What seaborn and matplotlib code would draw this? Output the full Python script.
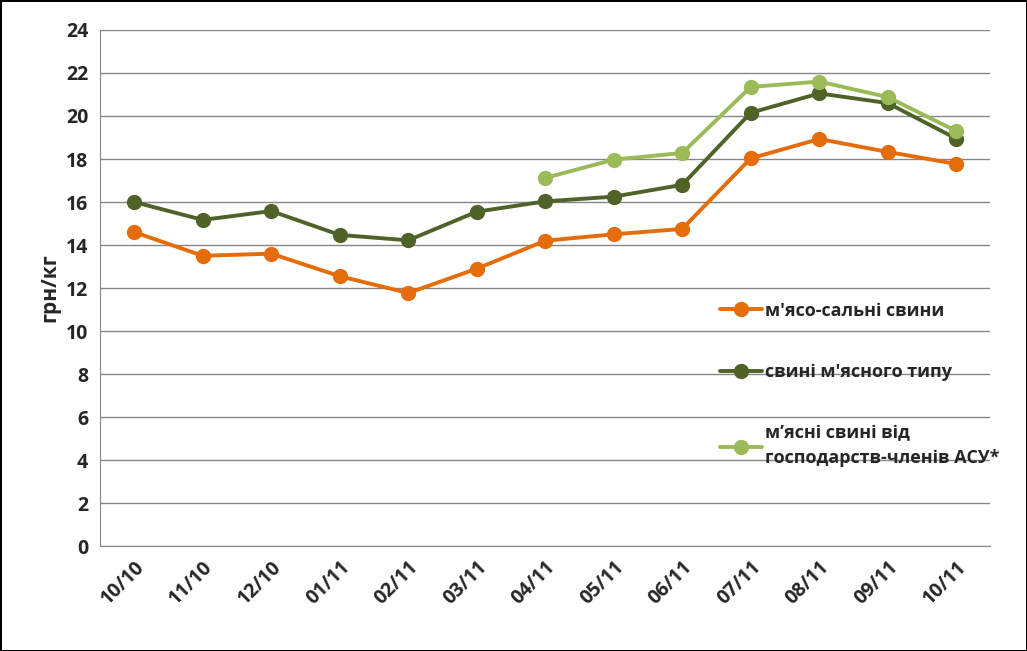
import seaborn as sns
import pandas as pd
import matplotlib.pyplot as plt
import numpy as np

months = ['10/10', '11/10', '12/10', '01/11', '02/11', '03/11', '04/11',
          '05/11', '06/11', '07/11', '08/11', '09/11', '10/11']
meat_fat = [14.6, 13.5, 13.6, 12.55, 11.77, 12.9, 14.2, 14.5, 14.75, 18.03, 18.93, 18.33, 17.77]
meat_type = [16.0, 15.17, 15.58, 14.47, 14.22, 15.55, 16.03, 16.25, 16.8, 20.15, 21.05, 20.6, 18.95]
asu_meat = [np.nan, np.nan, np.nan, np.nan, np.nan, np.nan, 17.12, 17.97, 18.28, 21.35, 21.6, 20.88, 19.3]

names = ["м'ясо-сальні свини", "свині м'ясного типу",
         "м’ясні свині від\nгосподарств-членів АСУ*"]
colors = ['#E46C0A', '#4F6228', '#9BBB59']

df = pd.DataFrame({'month': months * 3,
                   'value': meat_fat + meat_type + asu_meat,
                   'series': [names[0]] * 13 + [names[1]] * 13 + [names[2]] * 13})
df['x'] = list(range(13)) * 3

sns.set_style('white')
plt.rcParams['font.family'] = ['Open Sans', 'DejaVu Sans']
plt.rcParams['font.weight'] = 'bold'

fig = plt.figure(figsize=(10.27, 6.51), dpi=100, linewidth=2, edgecolor='black')
ax = fig.add_axes([0.0974, 0.161, 0.867, 0.793])

sns.lineplot(data=df, x='x', y='value', hue='series', palette=colors,
             marker='o', markersize=11, markeredgewidth=0, linewidth=2.8,
             sort=False, ax=ax)

ax.set_xlim(-0.5, 12.5)
ax.set_ylim(0, 24)
ax.set_yticks(range(0, 25, 2))
ax.set_xticks(range(13))
ax.set_xticklabels(months, rotation=45, ha='right', rotation_mode='anchor')
ax.tick_params(axis='both', labelsize=14, length=5, color='#868686', width=1)
ax.tick_params(axis='x', length=0, pad=8)
for lab in ax.get_xticklabels() + ax.get_yticklabels():
    lab.set_fontweight('bold')
ax.grid(axis='y', color='#868686', lw=1)
ax.set_axisbelow(True)
for s in ['top', 'right']:
    ax.spines[s].set_visible(False)
for s in ['left', 'bottom']:
    ax.spines[s].set_color('#868686')
ax.set_xlabel('')
ax.set_ylabel('грн/кг', fontsize=15, fontweight='bold')

leg = ax.legend(loc='upper left', bbox_to_anchor=(0.678, 0.505), frameon=False,
                labelspacing=2.4, handlelength=2.3, handletextpad=0.2,
                prop={'weight': 'bold', 'size': 13})
for t in leg.get_texts():
    t.set_linespacing(1.5)

fig.savefig('out.png', dpi=100, edgecolor=fig.get_edgecolor())
